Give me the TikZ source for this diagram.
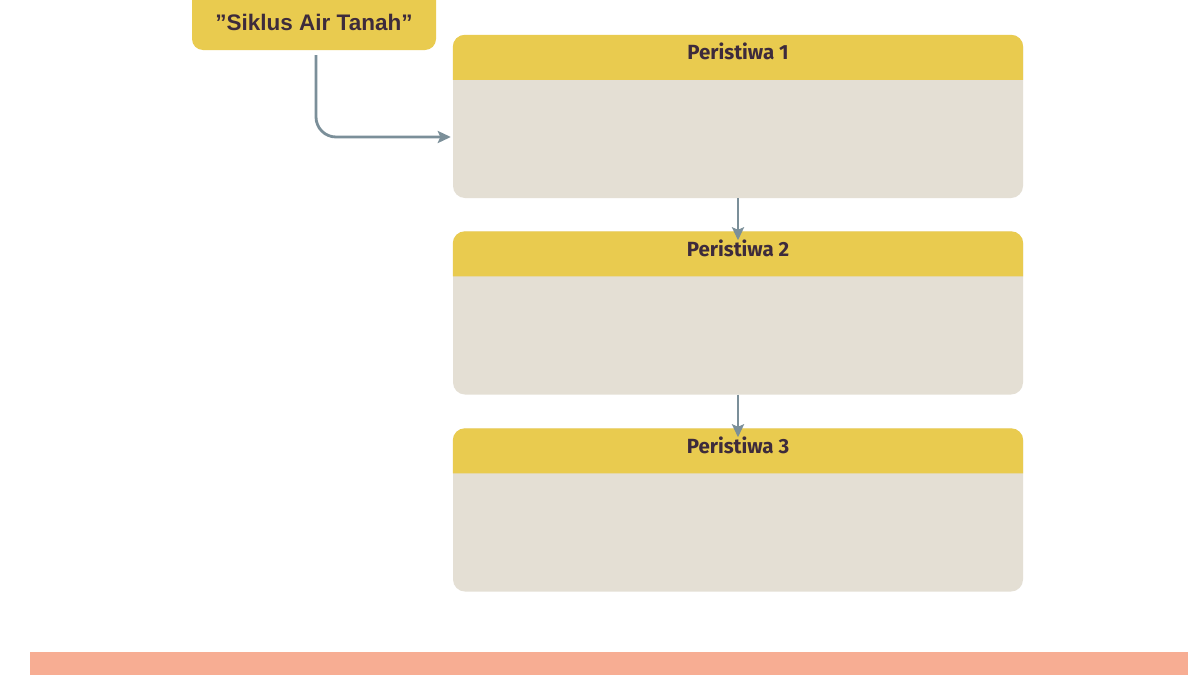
\documentclass[tikz,border=0pt]{standalone}
\usepackage{fontspec}
\setmainfont{Liberation Sans}
\newfontfamily\hdrfont{Fira Sans}
\usetikzlibrary{arrows.meta,calc}
\definecolor{ylw}{HTML}{E9CB4F}
\definecolor{bge}{HTML}{E4DFD4}
\definecolor{arr}{HTML}{7B8F99}
\definecolor{txt}{HTML}{3D2B3C}
\definecolor{barc}{HTML}{F7AD93}
\tikzset{
  body/.style={fill=bge, rounded corners=12pt, minimum width=570pt, minimum height=163pt, inner sep=0pt},
  hdr/.style={font=\hdrfont\bfseries\fontsize{20.5}{23}\selectfont, text=txt, inner sep=0pt},
  titlebox/.style={fill=ylw, rounded corners=11pt, minimum width=244pt, minimum height=66pt, inner sep=0pt},
  ttl/.style={font=\bfseries\fontsize{22.5}{26}\selectfont, text=txt, inner sep=0pt},
  conn/.style={draw=arr, line width=2.8pt, -{Stealth[length=13pt,width=12pt,inset=2.5pt]}}
}
\begin{document}
\begin{tikzpicture}[x=1pt,y=-1pt]
\useasboundingbox (0,0) rectangle (1200,675);
\fill[white] (0,0) rectangle (1200,675);
% bottom bar
\fill[barc] (30,652) rectangle (1188,680);
% title
\node[titlebox] (t) at (314,17) {};
\node[ttl] (tt) at (314,22) {\char"201D Siklus Air Tanah\char"201D};
% boxes
\foreach \i/\y in {1/116.5, 2/313, 3/510}{
  \node[body] (p\i) at (738,\y) {};
  \fill[ylw] ($(p\i.north west)+(0,45)$) {[rounded corners=12pt] -- (p\i.north west) -- (p\i.north east)} -- ($(p\i.north east)+(0,45)$) -- cycle;
  \node[hdr] (h\i) at ($(p\i.north)+(0,17)$) {Peristiwa \i};
}
% connectors
\draw[conn, rounded corners=20pt] ($(t.south)+(2,5)$) |- ($(p1.west)+(-2,20.5)$);
\draw[conn] (p1.south) -- ($(p2.north)+(0,9)$);
\draw[conn] (p2.south) -- ($(p3.north)+(0,9)$);
\end{tikzpicture}
\end{document}
